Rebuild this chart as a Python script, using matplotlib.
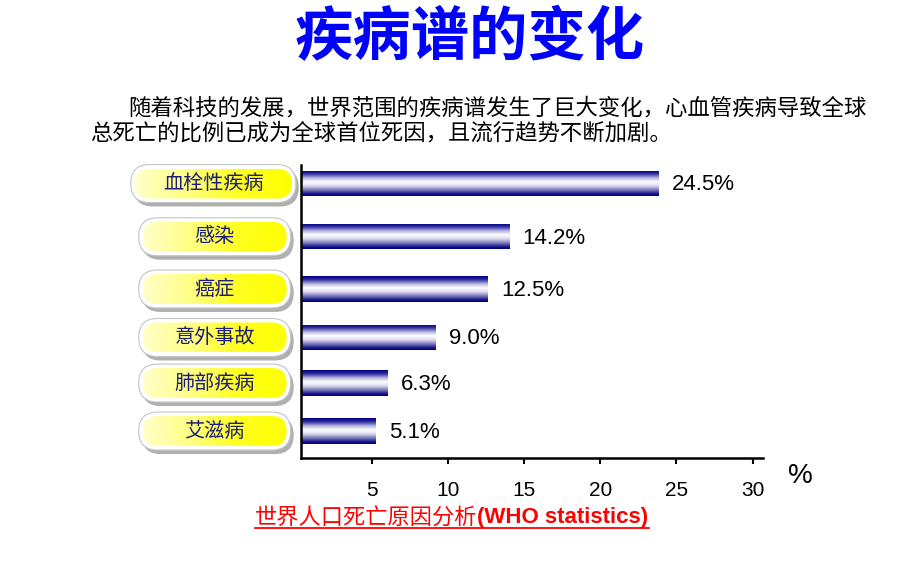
import numpy as np
import matplotlib.pyplot as plt
from matplotlib.patches import FancyBboxPatch
from matplotlib.colors import LinearSegmentedColormap

plt.rcParams['font.family'] = ['Noto Sans CJK SC', 'DejaVu Sans']

# data
causes = ['血栓性疾病', '感染', '癌症', '意外事故', '肺部疾病', '艾滋病']
bar_len = [23.8, 14.0, 12.6, 9.15, 6.0, 5.2]
value_labels = ['24.5%', '14.2%', '12.5%', '9.0%', '6.3%', '5.1%']
x_ticks = [5, 10, 15, 20, 25, 30]

title = '疾病谱的变化'
intro = ['随着科技的发展，世界范围的疾病谱发生了巨大变化，心血管疾病导致全球',
         '总死亡的比例已成为全球首位死因，且流行趋势不断加剧。']
caption_cn = '世界人口死亡原因分析'
caption_en = '(WHO statistics)'

# row centres - the slide does not space them quite evenly
row_y = [0, 1.075, 2.13, 3.11, 4.03, 5.0]

W, H = 920, 577
fig = plt.figure(figsize=(9.2, 5.77), dpi=100)

# background axes in pixel coords for title, text and the label pills
bg = fig.add_axes([0, 0, 1, 1])
bg.set_xlim(0, W)
bg.set_ylim(H, 0)
bg.axis('off')

ax = fig.add_axes([300.7 / W, (H - 458.3) / H, (763 - 300.7) / W, (458.3 - 165) / H])
x_min = 0.34
ax.set_xlim(x_min, 30.68)
ax.set_ylim(5.55, -0.374)
ax.patch.set_alpha(0)

# tube-like bars: navy edges, white in the middle
tube = LinearSegmentedColormap.from_list('tube', [
    (0, '#000088'), (0.12, '#26269a'), (0.3, '#b4b4e0'), (0.45, '#ffffff'),
    (0.6, '#dedef2'), (0.8, '#6868b0'), (0.92, '#14148a'), (1, '#000080')])
vgrad = np.linspace(0, 1, 64).reshape(-1, 1)
bars = ax.barh(row_y, np.array(bar_len) - x_min, height=0.51, left=x_min,
               color='none', edgecolor='none')
for b in bars:
    x0, y0 = b.get_x(), b.get_y()
    im = ax.imshow(vgrad, cmap=tube, aspect='auto', interpolation='bilinear',
                   extent=[x0, x0 + b.get_width(), y0 + b.get_height(), y0], zorder=2)
    im.set_clip_path(b)

for yy, v, lab in zip(row_y, bar_len, value_labels):
    ax.annotate(lab, (v, yy), xytext=(10, -1), textcoords='offset points',
                va='center', ha='left', fontsize=16, family='Liberation Sans',
                annotation_clip=False)

for s in ['top', 'right']:
    ax.spines[s].set_visible(False)
for s in ['left', 'bottom']:
    ax.spines[s].set_linewidth(1.8)
ax.set_yticks([])
ax.set_xticks(x_ticks)
ax.tick_params(axis='x', direction='out', length=4, width=1.5, pad=12, labelsize=15)
for t in ax.get_xticklabels():
    t.set_family('Liberation Sans')

# yellow pills with the cause names
pill = LinearSegmentedColormap.from_list('pill', ['#ffffc8', '#ffff80', '#ffff20', '#ffff00'])
hgrad = np.linspace(0, 1, 64).reshape(1, -1)
for i, (name, yy) in enumerate(zip(causes, row_y)):
    yc = H - ax.transData.transform((1, yy))[1]
    w = 157 if i == 0 else 144
    xc = 213.3 if i == 0 else 214.7
    h = 30
    x0, y0 = xc - w / 2, yc - h / 2
    bg.add_patch(FancyBboxPatch((x0 + 3, y0 + 4), w, h,
                                boxstyle=f'round,pad=4,rounding_size={h / 2 + 4}',
                                fc='#b0b0b0', ec='none', zorder=1))
    bg.add_patch(FancyBboxPatch((x0, y0), w, h,
                                boxstyle=f'round,pad=4,rounding_size={h / 2 + 4}',
                                fc='white', ec='#c4c4c4', lw=0.8, zorder=2))
    inner = FancyBboxPatch((x0, y0), w, h, boxstyle=f'round,pad=0,rounding_size={h / 2}',
                           fc='none', ec='none', zorder=3)
    bg.add_patch(inner)
    im = bg.imshow(hgrad, cmap=pill, aspect='auto', interpolation='bilinear',
                   extent=[x0, x0 + w, y0 + h, y0], zorder=3)
    im.set_clip_path(inner)
    bg.text(xc, yc, name, ha='center', va='center', fontsize=14.5, color='#1c1c7a', zorder=4)

# title and intro text
bg.text(470, 38, title, ha='center', va='center', fontsize=42, fontweight='bold', color='#0000ff')
bg.text(128, 108, intro[0], ha='left', va='center', fontsize=16.1, fontweight='light')
bg.text(90, 133, intro[1], ha='left', va='center', fontsize=16.1, fontweight='light')
bg.text(800, 476, '%', ha='center', va='center', fontsize=20, family='Liberation Sans')

# underlined red caption
cn = bg.text(255, 518, caption_cn, ha='left', va='center', fontsize=16, color='red')
fig.canvas.draw()
r = fig.canvas.get_renderer()
bb = cn.get_window_extent(r)
en = bg.text(bb.x1, 518, caption_en, ha='left', va='center', fontsize=16,
             fontweight='bold', family='Liberation Sans', color='red')
bb2 = en.get_window_extent(r)
bg.plot([255, bb2.x1], [528, 528], color='red', lw=1.3)
bg.set_xlim(0, W)
bg.set_ylim(H, 0)

fig.savefig('out.png', dpi=100)
